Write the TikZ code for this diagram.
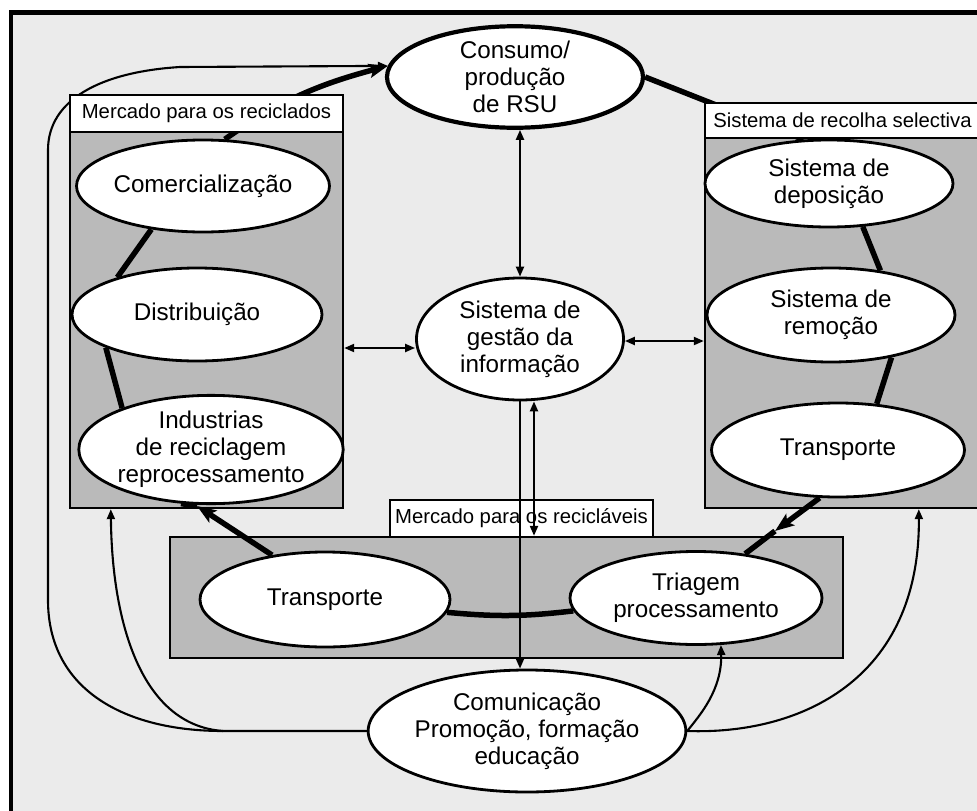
\documentclass[tikz,border=0pt]{standalone}
\usepackage{fontspec}
\setmainfont{Liberation Sans}
\usetikzlibrary{shapes.geometric,arrows.meta,calc}
\pgfdeclarelayer{canvasbg}
\pgfdeclarelayer{boxes}
\pgfdeclarelayer{links}
\pgfsetlayers{canvasbg,boxes,links,main}

\begin{document}
\begin{tikzpicture}[x=1pt,y=-1pt,
  ell/.style={ellipse, draw, line width=2.8pt, fill=white, inner sep=0pt,
              align=center, font=\fontsize{24.2}{27}\selectfont},
  gbox/.style={draw, line width=2.4pt, fill=black!27, inner sep=0pt},
  lbl/.style={draw, line width=1.8pt, fill=white, inner sep=0pt,
              font=\fontsize{20.3}{22}\selectfont},
  ring/.style={line width=5.5pt},
  bigtip/.style={-{Stealth[length=19pt,width=14pt,inset=4pt]}},
  conn/.style={line width=2.1pt},
  tip/.style={-{Triangle[length=10pt,width=8pt]}},
  dbl/.style={{Triangle[length=10pt,width=8pt]}-{Triangle[length=10pt,width=8pt]}}
]
\useasboundingbox (0,0) rectangle (977,811);

% paper and frame
\begin{pgfonlayer}{canvasbg}
  \fill[white] (0,0) rectangle (977,811);
  \fill[black!8] (11,12.5) rectangle (977,811);
  \draw[line width=4.5pt] (11,811) -- (11,12.5) -- (977,12.5);
\end{pgfonlayer}

% shaded groups
\begin{pgfonlayer}{boxes}
  \node[gbox, minimum width=273pt, minimum height=376pt] (g1) at (206.5,320) {};
  \node[gbox, minimum width=275pt, minimum height=370pt] (g2) at (842.5,323) {};
  \node[gbox, minimum width=673pt, minimum height=121pt] (g3) at (506.5,597.5) {};
\end{pgfonlayer}

% group titles
\node[lbl, minimum width=273pt, minimum height=37pt] (l1) at (206.5,113.5) {Mercado para os reciclados};
\node[lbl, minimum width=275pt, minimum height=35pt] (l2) at (842.5,120.5) {Sistema de recolha selectiva};
\node[lbl, minimum width=263pt, minimum height=37pt] (l3) at (521.5,518.5) {Mercado para os recicláveis};

% stages
\node[ell, line width=4.2pt, minimum width=256pt, minimum height=95pt] (cons) at (515,77) {Consumo/\\produção\\de RSU};
\node[ell, minimum width=253pt, minimum height=92pt] (com) at (203,186) {Comercialização};
\node[ell, minimum width=250pt, minimum height=93pt] (dist) at (197,314.5) {Distribuição};
\node[ell, minimum width=252pt, minimum height=95pt] (ind) at (211,449.5) {Industrias\\de reciclagem\\reprocessamento};
\node[ell, minimum width=248pt, minimum height=87pt] (dep) at (829,183.5) {Sistema de\\deposição};
\node[ell, minimum width=248pt, minimum height=94pt] (rem) at (831,315) {Sistema de\\remoção};
\node[ell, minimum width=253pt, minimum height=94pt] (trR) at (838,450) {Transporte};
\node[ell, minimum width=207pt, minimum height=122pt] (gest) at (520,339) {Sistema de\\gestão da\\informação};
\node[ell, minimum width=250pt, minimum height=95pt] (trB) at (325,599.5) {Transporte};
\node[ell, minimum width=252pt, minimum height=93pt] (tri) at (696,598) {Triagem\\processamento};
\node[ell, minimum width=260pt, minimum height=122pt] (comm) at (527,731) {Comunicação\\Promoção, formação\\educação};

% helper points
\coordinate (j1) at (223,731);
\coordinate (a1) at (775,531);
\coordinate (a2) at (197,506);
\coordinate (la) at (0,348);
\coordinate (ra) at (0,341);

\begin{pgfonlayer}{links}
  % information / promotion feedback lines
  \draw[conn, tip] (comm.west) -- (j1) .. controls (125,731) and (48,690) .. (48,600)
        -- (48,150) .. controls (48,100) and (100,72) .. (180,67) -- (cons.175);
  \draw[conn, tip] (j1) .. controls (140,725) and (112,620) .. ($(g1.south west)+(42,0)$);
  \draw[conn, tip] (comm.east) .. controls (700,715) and (722,690) .. (tri.-62);
  \draw[conn, tip] (comm.east) .. controls (800,735) and (920,680) .. ($(g2.south west)+(215,0)$);

  % main material cycle
  \draw[ring] (cons.east) -- (dep.120);
  \draw[ring] (dep.-52) -- (rem.42);
  \draw[ring] (rem.-35) -- (trR.50);
  \draw[ring, bigtip] (trR.-111) -- (a1);
  \draw[ring] (a1) -- (tri.42);
  \draw[ring] (tri.186) to[bend left=6] (trB.-6);
  \draw[ring, bigtip] (trB.140) -- (a2);
  \draw[ring] (a2) -- (ind.-119);
  \draw[ring] (ind.155) -- (dist.-160);
  \draw[ring] (dist.155) -- (com.-140);
  \draw[ring, bigtip] (com.65) to[out=35,in=195] (cons.175);
\end{pgfonlayer}

% information system exchanges
\draw[conn, dbl] (cons.south -| gest.north) -- (gest.north);
\draw[conn, dbl] (g1.east |- la) -- (gest.west |- la);
\draw[conn, dbl] (gest.east |- ra) -- (g2.west |- ra);
\draw[conn, tip] (gest.south) -- (gest.south |- comm.north);
\draw[conn, dbl] ([xshift=14pt]gest.south) -- ([xshift=14pt]gest.south |- g3.north);
\end{tikzpicture}
\end{document}
